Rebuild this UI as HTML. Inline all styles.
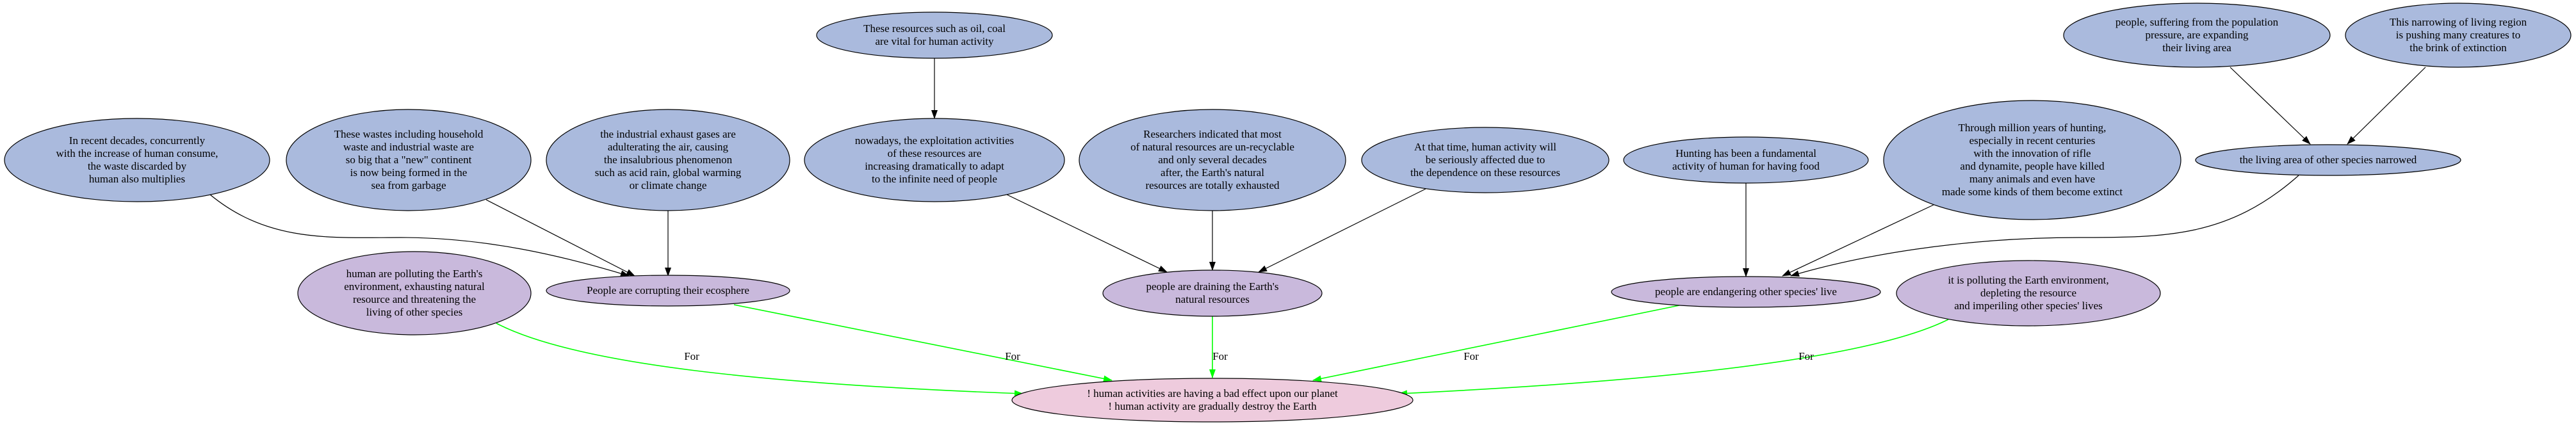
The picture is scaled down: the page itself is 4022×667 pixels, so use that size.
<!DOCTYPE html>
<html><head><meta charset="utf-8"><style>
html,body{margin:0;padding:0;background:#fff;}
svg text{font-family:"Liberation Serif",serif;font-size:17px;fill:#000;text-anchor:middle;}
</style></head><body>
<svg width="4022" height="662" viewBox="0 0 4022 662" xmlns="http://www.w3.org/2000/svg">
<defs>
<marker id="ab" markerWidth="14" markerHeight="12" refX="13" refY="6" orient="auto" markerUnits="userSpaceOnUse"><path d="M0,1 L14,6 L0,11 z" fill="#000"/></marker>
<marker id="ag" markerWidth="14" markerHeight="12" refX="13" refY="6" orient="auto" markerUnits="userSpaceOnUse"><path d="M0,1 L14,6 L0,11 z" fill="#0f0"/></marker>
</defs>
<g fill="none" stroke="#000" stroke-width="1.2" marker-end="url(#ab)">
<path d="M328,304 C420,380 520,371 625,371 C760,371 880,400 982,431"/>
<path d="M759,312 L991,431"/>
<path d="M1043,329 L1043,431"/>
<path d="M1459,90 L1459,185"/>
<path d="M1572,304 L1822,425"/>
<path d="M1893,329 L1893,422"/>
<path d="M2226,295 L1965,425"/>
<path d="M2726,286 L2726,432"/>
<path d="M3019,320 L2783,431"/>
<path d="M3589,274 C3480,371 3380,371 3247,371 C3060,371 2900,400 2796,431"/>
<path d="M3482,105 L3607,225"/>
<path d="M3787,105 L3665,225"/>
</g>
<g fill="none" stroke="#0f0" stroke-width="1.6" marker-end="url(#ag)">
<path d="M775,505 C900,570 1200,600 1597,615"/>
<path d="M1146,476 L1736,594"/>
<path d="M1893,494 L1893,590"/>
<path d="M2622,477 L2050,594"/>
<path d="M3042,499 C2900,570 2500,600 2184,615"/>
</g>
<g font-size="17">
<text x="1080" y="562">For</text>
<text x="1581" y="562">For</text>
<text x="1905" y="562">For</text>
<text x="2297" y="562">For</text>
<text x="2820" y="562">For</text>
</g>
<g stroke="#000" stroke-width="1.2">
<ellipse cx="214" cy="250" rx="207" ry="65" fill="#aabadd"/>
<ellipse cx="638" cy="250" rx="191" ry="79" fill="#aabadd"/>
<ellipse cx="1043" cy="250" rx="190" ry="79" fill="#aabadd"/>
<ellipse cx="1459" cy="55" rx="184" ry="36" fill="#aabadd"/>
<ellipse cx="1459" cy="250" rx="203" ry="65" fill="#aabadd"/>
<ellipse cx="1893" cy="250" rx="208" ry="79" fill="#aabadd"/>
<ellipse cx="2319" cy="250" rx="193" ry="51" fill="#aabadd"/>
<ellipse cx="2726" cy="250" rx="191" ry="36" fill="#aabadd"/>
<ellipse cx="3173" cy="250" rx="232" ry="93" fill="#aabadd"/>
<ellipse cx="3635" cy="250" rx="207" ry="24" fill="#aabadd"/>
<ellipse cx="3430" cy="55" rx="208" ry="50" fill="#aabadd"/>
<ellipse cx="3838" cy="55" rx="176" ry="50" fill="#aabadd"/>
<ellipse cx="647" cy="458" rx="182" ry="65" fill="#c9b9dc"/>
<ellipse cx="1043" cy="454" rx="190" ry="24" fill="#c9b9dc"/>
<ellipse cx="1893" cy="458" rx="171" ry="36" fill="#c9b9dc"/>
<ellipse cx="2726" cy="456" rx="210" ry="24" fill="#c9b9dc"/>
<ellipse cx="3167" cy="458" rx="206" ry="51" fill="#c9b9dc"/>
<ellipse cx="1893" cy="625" rx="313" ry="34" fill="#eecbdd"/>
</g>
<text x="214" y="225">In recent decades, concurrently</text>
<text x="214" y="245">with the increase of human consume,</text>
<text x="214" y="265">the waste discarded by</text>
<text x="214" y="285">human also multiplies</text>
<text x="638" y="215">These wastes including household</text>
<text x="638" y="235">waste and industrial waste are</text>
<text x="638" y="255">so big that a "new" continent</text>
<text x="638" y="275">is now being formed in the</text>
<text x="638" y="295">sea from garbage</text>
<text x="1043" y="215">the industrial exhaust gases are</text>
<text x="1043" y="235">adulterating the air, causing</text>
<text x="1043" y="255">the insalubrious phenomenon</text>
<text x="1043" y="275">such as acid rain, global warming</text>
<text x="1043" y="295">or climate change</text>
<text x="1459" y="50">These resources such as oil, coal</text>
<text x="1459" y="70">are vital for human activity</text>
<text x="1459" y="225">nowadays, the exploitation activities</text>
<text x="1459" y="245">of these resources are</text>
<text x="1459" y="265">increasing dramatically to adapt</text>
<text x="1459" y="285">to the infinite need of people</text>
<text x="1893" y="215">Researchers indicated that most</text>
<text x="1893" y="235">of natural resources are un-recyclable</text>
<text x="1893" y="255">and only several decades</text>
<text x="1893" y="275">after, the Earth's natural</text>
<text x="1893" y="295">resources are totally exhausted</text>
<text x="2319" y="235">At that time, human activity will</text>
<text x="2319" y="255">be seriously affected due to</text>
<text x="2319" y="275">the dependence on these resources</text>
<text x="2726" y="245">Hunting has been a fundamental</text>
<text x="2726" y="265">activity of human for having food</text>
<text x="3173" y="205">Through million years of hunting,</text>
<text x="3173" y="225">especially in recent centuries</text>
<text x="3173" y="245">with the innovation of rifle</text>
<text x="3173" y="265">and dynamite, people have killed</text>
<text x="3173" y="285">many animals and even have</text>
<text x="3173" y="305">made some kinds of them become extinct</text>
<text x="3635" y="255">the living area of other species narrowed</text>
<text x="3430" y="40">people, suffering from the population</text>
<text x="3430" y="60">pressure, are expanding</text>
<text x="3430" y="80">their living area</text>
<text x="3838" y="40">This narrowing of living region</text>
<text x="3838" y="60">is pushing many creatures to</text>
<text x="3838" y="80">the brink of extinction</text>
<text x="647" y="433">human are polluting the Earth's</text>
<text x="647" y="453">environment, exhausting natural</text>
<text x="647" y="473">resource and threatening the</text>
<text x="647" y="493">living of other species</text>
<text x="1043" y="459">People are corrupting their ecosphere</text>
<text x="1893" y="453">people are draining the Earth's</text>
<text x="1893" y="473">natural resources</text>
<text x="2726" y="461">people are endangering other species' live</text>
<text x="3167" y="443">it is polluting the Earth environment,</text>
<text x="3167" y="463">depleting the resource</text>
<text x="3167" y="483">and imperiling other species' lives</text>
<text x="1893" y="620">! human activities are having a bad effect upon our planet</text>
<text x="1893" y="640">! human activity are gradually destroy the Earth</text>
</svg>
</body></html>
